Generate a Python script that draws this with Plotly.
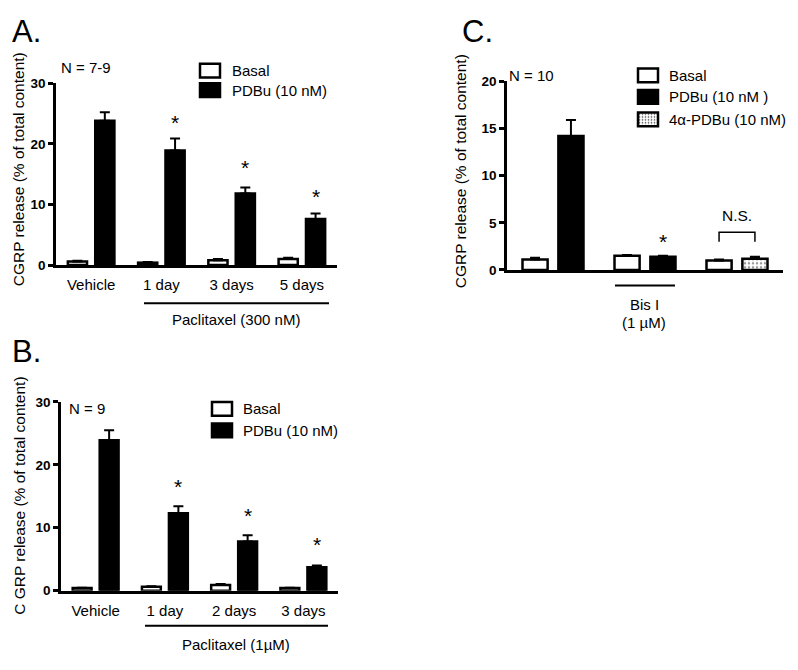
import base64
import plotly.graph_objects as go

# ---------------- data ----------------
cats_a = ["Vehicle", "1 day", "3 days", "5 days"]
basal_a = [0.6, 0.4, 0.8, 1.0]
basal_a_sem = [0.1, 0.1, 0.2, 0.2]
pdbu_a = [23.8, 18.9, 11.8, 7.6]
pdbu_a_sem = [1.4, 2.0, 1.0, 0.9]
star_a = [None, 24.0, 16.6, 11.8]

cats_b = ["Vehicle", "1 day", "2 days", "3 days"]
basal_b = [0.4, 0.6, 0.9, 0.4]
basal_b_sem = [0.05, 0.1, 0.15, 0.05]
pdbu_b = [23.9, 12.3, 7.8, 3.7]
pdbu_b_sem = [1.6, 1.1, 1.0, 0.3]
star_b = [None, 17.1, 12.5, 7.8]

cats_c = ["Control", "Bis I", "4α-PDBu"]
basal_c = [1.1, 1.5, 1.0]
basal_c_sem = [0.2, 0.1, 0.1]
pdbu_c = [14.2, 1.4, None]
pdbu_c_sem = [1.7, 0.1, 0]
apdbu_c = [None, None, 1.2]
apdbu_c_sem = [0, 0, 0.2]
star_c = [None, 3.3, None]
ns_c = {"group": 2, "low": 3.0, "high": 4.0, "text_y": 5.8}

# ---------------- helpers ----------------
W, H = 798, 670
FONT = "Liberation Sans, Arial, sans-serif"
FS = 15
BARGAP = 0.22
SLOT = (1 - BARGAP) / 4  # offset of each bar centre from category centre


def X(p):
    return p / W


def Y(p):
    return 1 - p / H


fig = go.Figure()


def add_bar(name, cats, vals, sem, xa, ya, fill, group, pattern=None):
    marker = dict(color=fill, line=dict(color="black", width=2.5))
    if pattern:
        marker["pattern"] = pattern
    fig.add_trace(go.Bar(
        x=cats, y=vals, name=name, xaxis=xa, yaxis=ya,
        offsetgroup=group, marker=marker, showlegend=False,
        error_y=dict(type="data", symmetric=False, array=sem,
                     arrayminus=[0] * len(sem), color="black",
                     thickness=2, width=5),
    ))


add_bar("Basal", cats_a, basal_a, basal_a_sem, "x", "y", "white", "1")
add_bar("PDBu (10 nM)", cats_a, pdbu_a, pdbu_a_sem, "x", "y", "black", "2")
add_bar("Basal", cats_b, basal_b, basal_b_sem, "x2", "y2", "white", "1")
add_bar("PDBu (10 nM)", cats_b, pdbu_b, pdbu_b_sem, "x2", "y2", "black", "2")
add_bar("Basal", cats_c, basal_c, basal_c_sem, "x3", "y3", "white", "1")
add_bar("PDBu (10 nM)", cats_c, pdbu_c, pdbu_c_sem, "x3", "y3", "black", "2")
dots = dict(shape=".", fgcolor="#333333", bgcolor="white", size=4, solidity=0.3)
add_bar("4α-PDBu (10 nM)", cats_c, apdbu_c, apdbu_c_sem, "x3", "y3", "white", "2", dots)

axis_common = dict(showline=True, linecolor="black", linewidth=2.5,
                   showgrid=False, zeroline=False, fixedrange=True)
yfont = dict(family=FONT, size=13.5, color="black", weight="bold")
xfont = dict(family=FONT, size=FS, color="black")

layout = dict(
    width=W, height=H, margin=dict(l=0, r=0, t=0, b=0),
    paper_bgcolor="white", plot_bgcolor="white",
    barmode="group", bargap=BARGAP, bargroupgap=0.3,
    font=dict(family=FONT, size=FS, color="black"),
    showlegend=False,
    xaxis=dict(domain=[X(56), X(337)], anchor="y", type="category",
               range=[-0.5, 3.5], ticks="", tickfont=xfont,
               ticklabelstandoff=4, **axis_common),
    yaxis=dict(domain=[Y(264), Y(78)], anchor="x", range=[0, 30],
               tickvals=[0, 10, 20, 30], ticks="outside", ticklen=5,
               tickwidth=2.5, tickcolor="black", tickfont=yfont, **axis_common),
    xaxis2=dict(domain=[X(61), X(338)], anchor="y2", type="category",
                range=[-0.5, 3.5], ticks="", tickfont=xfont,
                ticklabelstandoff=5, **axis_common),
    yaxis2=dict(domain=[Y(597), Y(404)], anchor="x2", range=[0, 30],
                tickvals=[0, 10, 20, 30], ticks="outside", ticklen=5,
                tickwidth=2.5, tickcolor="black", tickfont=yfont, **axis_common),
    xaxis3=dict(domain=[X(507), X(783)], anchor="y3", type="category",
                range=[-0.5, 2.5], ticks="", showticklabels=False, **axis_common),
    yaxis3=dict(domain=[Y(269), Y(76)], anchor="x3", range=[0, 20],
                tickvals=[0, 5, 10, 15, 20], ticks="outside", ticklen=5,
                tickwidth=2.5, tickcolor="black", tickfont=yfont, **axis_common),
)
fig.update_layout(**layout)

ann = []
shapes = []
images = []


def text(x, y, s, size=FS, xanchor="center", yanchor="middle", angle=0):
    ann.append(dict(x=X(x), y=Y(y), xref="paper", yref="paper", text=s,
                    showarrow=False, xanchor=xanchor, yanchor=yanchor,
                    textangle=angle, font=dict(family=FONT, size=size, color="black")))


# panel letters
text(10, 25, "A.", size=31, xanchor="left")
text(10, 352, "B.", size=31, xanchor="left")
text(460, 25, "C.", size=31, xanchor="left")

# y-axis titles
title = "CGRP release (% of total content)"
text(18, 166, title, size=15.5, angle=-90)
text(20, 500, "C GRP release (% of total content)", size=15.5, angle=-90)
text(460, 168, title, size=15.5, angle=-90)

# N labels
text(59, 62, "N = 7-9", xanchor="left")
text(67, 411, "N = 9", xanchor="left")
text(507, 70, "N = 10", xanchor="left")

# group bars under x axis
def hline(x0, x1, y, w=2):
    shapes.append(dict(type="line", xref="paper", yref="paper",
                       x0=X(x0), x1=X(x1), y0=Y(y), y1=Y(y),
                       line=dict(color="black", width=w)))


hline(144, 329, 303)
text(236, 320, "Paclitaxel (300 nM)")
hline(145, 328, 633)
text(236, 652, "Paclitaxel (1µM)")
hline(615, 675, 285)
text(644, 304, "Bis I")
text(644, 323, "(1 µM)")

# legends (manual swatches)
def swatch(x0, yc, fill, w=20, h=14):
    shapes.append(dict(type="rect", xref="paper", yref="paper",
                       x0=X(x0), x1=X(x0 + w), y0=Y(yc + h / 2), y1=Y(yc - h / 2),
                       fillcolor=fill, line=dict(color="black", width=2.5)))


def legend(x0, tx, rows):
    for yc, fill, label in rows:
        swatch(x0, yc, fill)
        text(tx, yc, label, xanchor="left")


legend(200, 230, [(65, "white", "Basal"), (85, "black", "PDBu (10 nM)")])
legend(212, 241, [(411, "white", "Basal"), (433, "black", "PDBu (10 nM)")])
legend(638, 667, [(70, "white", "Basal"), (92, "black", "PDBu (10 nM )"),
                  (115, "rgba(0,0,0,0)", "4α-PDBu (10 nM)")])

svg = ("<svg xmlns='http://www.w3.org/2000/svg' width='20' height='14'>"
       "<defs><pattern id='p' width='3' height='3' patternUnits='userSpaceOnUse'>"
       "<rect width='3' height='3' fill='white'/>"
       "<circle cx='1.5' cy='1.5' r='0.8' fill='#333'/></pattern></defs>"
       "<rect width='20' height='14' fill='url(#p)'/></svg>")
images.append(dict(source="data:image/svg+xml;base64," + base64.b64encode(svg.encode()).decode(),
                   xref="paper", yref="paper", x=X(638), y=Y(108), sizex=20 / W, sizey=14 / H,
                   sizing="stretch", xanchor="left", yanchor="top", layer="below"))

# significance stars
def stars(vals, xa, ya):
    for i, v in enumerate(vals):
        if v is None:
            continue
        ann.append(dict(x=i + SLOT, y=v, xref=xa, yref=ya, text="*", showarrow=False,
                        yanchor="middle", yshift=-3,
                        font=dict(family=FONT, size=21, color="black")))


stars(star_a, "x", "y")
stars(star_b, "x2", "y2")
stars(star_c, "x3", "y3")

# N.S. bracket
g = ns_c["group"]
shapes.append(dict(type="path", xref="x3", yref="y3",
                   path=f"M {g - SLOT},{ns_c['low']} L {g - SLOT},{ns_c['high']} "
                        f"L {g + SLOT},{ns_c['high']} L {g + SLOT},{ns_c['low']}",
                   line=dict(color="black", width=1.5)))
ann.append(dict(x=g, y=ns_c["text_y"], xref="x3", yref="y3", text="N.S.",
                showarrow=False, font=dict(family=FONT, size=15.5, color="black")))

fig.update_layout(annotations=ann, shapes=shapes, images=images)
fig.write_html("out.html", config={"displayModeBar": False},
               post_script="document.body.style.margin='0';document.body.style.overflow='hidden';")
